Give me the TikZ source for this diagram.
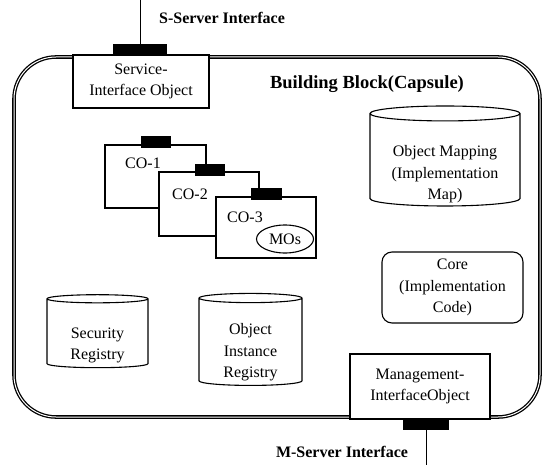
\documentclass[tikz,border=0pt]{standalone}
\usepackage{fontspec}
\setmainfont{Liberation Serif}
\usetikzlibrary{shapes.geometric,positioning}

\tikzset{
  plug/.style={fill=black, draw=black, inner sep=0pt, minimum width=#1, minimum height=11},
  drum/.style={cylinder, shape border rotate=90, draw, line width=1.1pt, fill=white, inner sep=0pt, align=center}
}
\newcommand{\lowtext}[2]{\raisebox{-#1}[\height][\depth]{\begin{tabular}{@{}c@{}}#2\end{tabular}}}

\begin{document}
\begin{tikzpicture}[x=1pt,y=-1pt,font=\fontsize{16}{21.5}\selectfont]
\useasboundingbox (0,0) rectangle (548,465);

\node (K) at (277,237) [draw, rounded corners=42pt, minimum width=526, minimum height=360,
  line width=1.3pt, double, double distance=1pt] {};

\begin{scope}[every node/.style={draw, fill=white, line width=1.1pt, inner sep=0pt, align=center}]
    \node (S) at (141,81.5) [minimum width=136, minimum height=53] {Service-\\Interface Object};
    \node (C1) at (155.5,176.5) [minimum width=101, minimum height=63] {};
    \node (C2) at (209,204) [minimum width=100, minimum height=64] {};
    \node (C3) at (266,227.5) [minimum width=100, minimum height=61] {};
    \node (R) at (452.5,287.5) [rounded corners=10pt, minimum width=141, minimum height=71] {Core\\(Implementation\\Code)};
    \node (M) at (420,386.5) [minimum width=140, minimum height=65] {Management-\\InterfaceObject};
    \node (O) at (285,239) [ellipse, minimum width=57, minimum height=28] {MOs};
\end{scope}

\node (P1) at (155.5,142) [plug=29] {};
\node (P2) at (209.5,169.5) [plug=29] {};
\node (P3) at (266,193.5) [plug=30] {};
\node (PS) at (140,50) [plug=53] {};
\node (PM) at (426,424) [plug=45] {};

\node (T1) at (143,163) {CO-1};
\node (T2) at (190,194) {CO-2};
\node (T3) at (245,217) {CO-3};

\node (D1) at (445,160) [drum, aspect=0.14, minimum width=150, minimum height=100] {\lowtext{14pt}{Object Mapping\\(Implementation\\Map)}};
\node (D2) at (97.5,333.5) [drum, aspect=0.15, minimum width=101, minimum height=73] {\lowtext{11pt}{Security\\Registry}};
\node (D3) at (250.5,342) [drum, aspect=0.17, minimum width=103, minimum height=92] {\lowtext{10pt}{Object\\Instance\\Registry}};

\node (L1) at (222,18) {\fontsize{16}{20}\selectfont\bfseries S-Server Interface};
\node (L2) at (367,84) {\fontsize{18.5}{22}\selectfont\bfseries Building Block(Capsule)};
\node (L3) at (342,452) {\fontsize{16}{20}\selectfont\bfseries M-Server Interface};

\coordinate (s1) at (140,0);
\coordinate (m1) at (426,465);

\begin{scope}[every edge/.style={draw=black, line width=1pt}]
    \path (PS) edge (s1);
    \path (PM) edge (m1);
\end{scope}
\end{tikzpicture}
\end{document}
